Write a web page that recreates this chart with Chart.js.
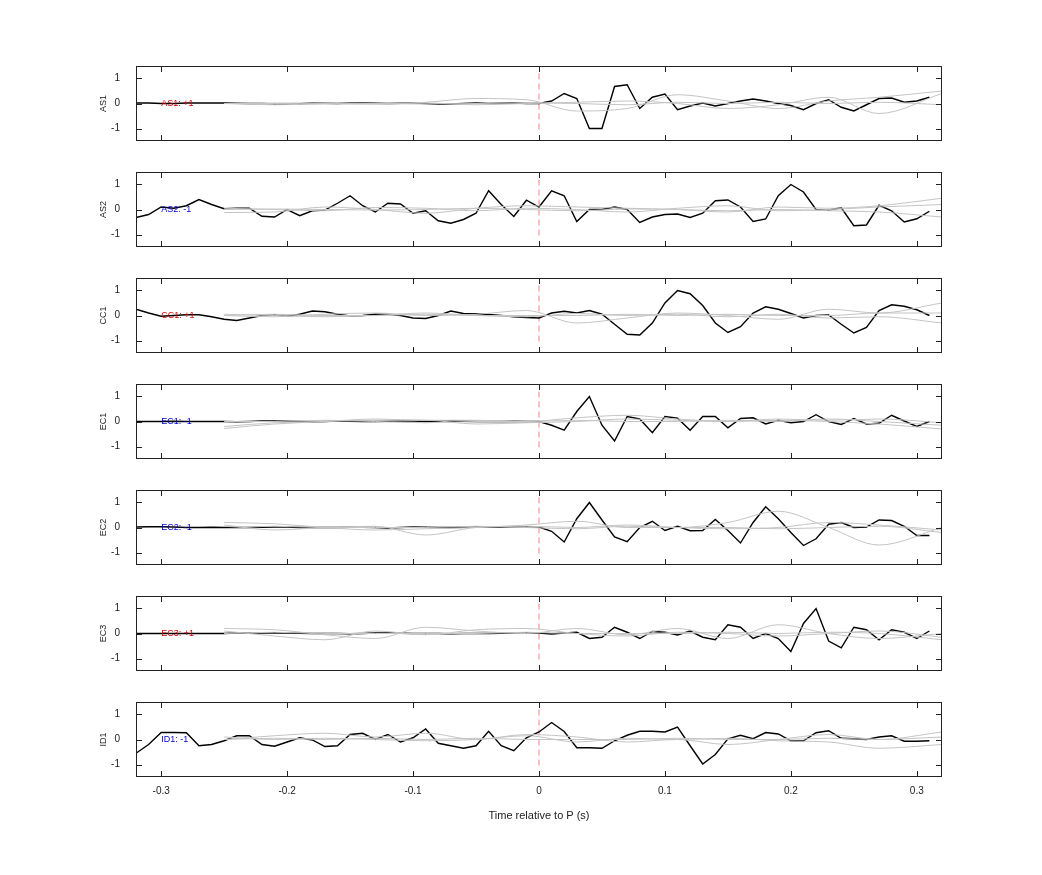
<!DOCTYPE html>
<html><head><meta charset="utf-8">
<script src="https://cdn.jsdelivr.net/npm/chart.js@4"></script>
<style>body{margin:0;background:#fff;width:1042px;height:875px;position:relative;overflow:hidden}
.p{position:absolute;left:0;width:1042px}</style></head><body>
<div id="wrap"></div>
<script>
const times=[-0.32,-0.31,-0.30,-0.29,-0.28,-0.27,-0.26,-0.25,-0.24,-0.23,-0.22,-0.21,-0.20,-0.19,-0.18,-0.17,-0.16,-0.15,-0.14,-0.13,-0.12,-0.11,-0.10,-0.09,-0.08,-0.07,-0.06,-0.05,-0.04,-0.03,-0.02,-0.01,0.00,0.01,0.02,0.03,0.04,0.05,0.06,0.07,0.08,0.09,0.10,0.11,0.12,0.13,0.14,0.15,0.16,0.17,0.18,0.19,0.20,0.21,0.22,0.23,0.24,0.25,0.26,0.27,0.28,0.29,0.30,0.31];
const grayTimes=[-0.25,-0.21,-0.17,-0.13,-0.09,-0.05,-0.01,0.03,0.07,0.11,0.15,0.19,0.23,0.27,0.32];
const channels=["AS1","AS2","CC1","EC1","EC2","EC3","ID1"];
const polarity=["+1","-1","+1","-1","-1","+1","-1"];
const xTicks=[-0.3,-0.2,-0.1,0,0.1,0.2,0.3];
const yTicks=[-1,0,1];

const AS1=[0.02,0.02,0,0,0.02,0.02,0.02,0.02,0.01,0,0,-0.02,-0.03,-0.01,0.02,0.01,0,0.02,0.02,0.01,0,0.01,0.02,0,-0.03,-0.02,0,0.02,0,0.01,0.02,0,0,
0.1,0.4,0.2,-1.0,-1.0,0.68,0.75,-0.2,0.25,0.38,-0.25,-0.1,0.02,-0.1,0,0.1,0.18,0.1,0,-0.08,-0.25,0,0.15,-0.15,-0.3,-0.05,0.2,0.22,0.05,0.1,0.25];
const AS2=[-0.32,-0.2,0.1,0.05,0.15,0.4,0.2,0.03,0.05,0.05,-0.27,-0.3,0,-0.25,-0.05,-0.02,0.25,0.55,0.15,-0.1,0.25,0.22,-0.15,-0.05,-0.45,-0.55,-0.4,-0.15,0.75,0.2,-0.28,0.37,0.1,
0.75,0.55,-0.48,0,0,0.1,0,-0.52,-0.3,-0.2,-0.18,-0.32,-0.15,0.35,0.38,0.1,-0.48,-0.38,0.55,1.0,0.7,0,-0.02,0.07,-0.65,-0.62,0.17,-0.05,-0.5,-0.37,-0.07];
const CC1=[0.25,0.1,-0.03,0,0.03,0.03,-0.05,-0.15,-0.2,-0.1,0,0.02,-0.03,0.05,0.18,0.15,0.05,-0.02,0,0.05,0.05,0,-0.1,-0.12,0,0.18,0.08,0.07,0.04,0,-0.05,-0.08,-0.1,
0.1,0.17,0.1,0.2,0.05,-0.35,-0.75,-0.78,-0.3,0.5,1.0,0.87,0.4,-0.3,-0.68,-0.45,0.1,0.35,0.25,0.08,-0.1,0,0.02,-0.35,-0.7,-0.48,0.2,0.43,0.37,0.23,0];
const EC1=[0,0,0,0.01,0,0,0,0,-0.01,0,0.02,0.02,0.01,0,-0.01,0,0.02,0.01,0,0,0.01,0.03,0.02,0,0.01,0.02,0.01,0,0,0,0.01,0,0,
-0.15,-0.35,0.4,1.0,-0.15,-0.78,0.2,0.1,-0.45,0.2,0.13,-0.35,0.2,0.2,-0.25,0.12,0.15,-0.1,0.05,-0.05,0,0.27,0,-0.12,0.12,-0.1,-0.07,0.25,0.02,-0.2,0];
const EC2=[0.02,0.03,0.03,0.02,0,0,0.01,0,0,0,0.01,0.02,0.02,0,0,0,0,0.01,0.01,0,-0.02,0,0.02,0.01,0,0,0.01,0.02,0.02,0.02,0.03,0.03,0.02,
-0.15,-0.58,0.35,1.0,0.3,-0.38,-0.57,0,0.25,-0.12,0.05,-0.13,-0.12,0.32,-0.12,-0.62,0.2,0.83,0.35,-0.2,-0.72,-0.45,0.13,0.2,0,0.02,0.3,0.28,0.05,-0.32,-0.32];
const EC3=[0,0,0,0,0,0,0,0,0.02,0.02,0.02,0.03,0.02,0.01,0,0,0,-0.01,0,0.02,0.02,0.01,0,0,0,-0.01,0,0,0,0.01,0.02,0.02,0.02,
-0.02,0.02,0.05,-0.2,-0.15,0.25,0.05,-0.2,0.08,0.05,-0.06,0.1,-0.15,-0.25,0.35,0.25,-0.2,0,-0.2,-0.72,0.4,1.0,-0.3,-0.57,0.25,0.15,-0.25,0.15,0.05,-0.2,0.1];
const ID1=[-0.55,-0.2,0.28,0.28,0.27,-0.25,-0.2,-0.05,0.15,0.15,-0.2,-0.27,-0.1,0.07,-0.02,-0.28,-0.25,0.2,0.25,0,0.2,-0.1,0.07,0.42,-0.15,-0.25,-0.35,-0.25,0.33,-0.25,-0.45,0.07,0.3,
0.68,0.32,-0.33,-0.33,-0.35,-0.05,0.17,0.33,0.33,0.3,0.5,-0.25,-0.98,-0.6,0.03,0.17,0.03,0.28,0.22,-0.05,-0.05,0.27,0.35,0.05,0.03,0,0.1,0.15,-0.07,-0.07,-0.05];

const AS1g1=[0,0.02,0,-0.03,0.05,0.2,0.15,-0.3,-0.2,0.35,0.1,-0.2,0.1,0.25,0.5];
const AS1g2=[0,-0.05,-0.02,0,0.02,-0.05,0,0.05,0.1,0,-0.2,-0.05,0.25,-0.4,0.4];
const AS1g3=[0,0,0.02,0,-0.02,0,0.02,0,-0.05,0.05,0,0.05,0,0.05,-0.05];
const AS2g1=[-0.12,-0.1,0.1,0,-0.15,0.05,0.15,0.1,0.05,0,-0.1,0.1,0.05,0.15,0.45];
const AS2g2=[0.05,0,-0.05,0.08,0.05,-0.05,0.05,0,-0.1,0.05,0.15,-0.05,0,0.1,0.2];
const AS2g3=[0,0.02,0,-0.02,0,0.05,0,-0.05,0.02,0,-0.05,0,-0.05,-0.1,-0.3];
const CC1g1=[0,-0.05,0.05,0.1,0,0.05,0.2,-0.3,-0.1,0.1,0,-0.15,0.25,0.1,0.5];
const CC1g2=[0.05,0,-0.05,0,0.1,0,-0.05,0.08,0,0.05,-0.05,0.05,-0.1,-0.05,-0.3];
const CC1g3=[0,0.05,0,0,0.05,0,0,0,0.05,0,0.05,0,0,0.1,0.1];
const EC1g1=[-0.28,-0.1,0,0.1,0.05,0.05,0,0.15,0.25,0.1,0,0.1,0.05,0.1,-0.05];
const EC1g2=[-0.2,-0.05,0,0.05,0.05,-0.1,-0.05,0,0.1,0.05,0,0.05,0,-0.1,-0.3];
const EC1g3=[0,0,0.05,0,-0.05,0,0,0.05,0,0,0.05,0,0.1,0,-0.15];
const EC2g1=[0.2,0.15,0,-0.1,-0.05,0,0.1,0.25,0,0,0.2,0.65,0,-0.7,0];
const EC2g2=[0.1,-0.1,0,0.05,-0.3,0,0.05,0,0.1,0,-0.05,0,0.2,0.1,-0.1];
const EC2g3=[-0.05,0.05,0,0,0,0.05,0,-0.05,0.05,0,0,-0.05,0,0.05,-0.2];
const EC3g1=[0.2,0.15,-0.05,-0.2,0.25,0.1,0,0.2,-0.05,0.2,-0.2,0.35,0,-0.2,0];
const EC3g2=[0.1,-0.1,-0.25,0.1,-0.05,0.15,0.2,0,-0.1,0.05,0,-0.1,0,0.1,-0.15];
const EC3g3=[0,0.05,0,0,0,0,0.05,0,0,0,0.05,0,0.05,0,-0.25];
const ID1g1=[0,0.15,0.25,0.1,0.25,0,0.2,0.1,-0.1,0,-0.2,0,0.2,0,0.3];
const ID1g2=[0.1,0,0.05,0,-0.05,0,0.15,-0.1,0.05,0,0.05,-0.05,-0.1,-0.35,-0.2];
const ID1g3=[0,0.05,0,0.05,0,0.05,0,0,0,0.05,0,0,0.05,0,0.1];

const black=[AS1,AS2,CC1,EC1,EC2,EC3,ID1];
const grays=[[AS1g1,AS1g2,AS1g3],[AS2g1,AS2g2,AS2g3],[CC1g1,CC1g2,CC1g3],[EC1g1,EC1g2,EC1g3],[EC2g1,EC2g2,EC2g3],[EC3g1,EC3g2,EC3g3],[ID1g1,ID1g2,ID1g3]];

const FONT='"Liberation Sans", Arial, sans-serif';
const wrap=document.getElementById('wrap');
const TOPOFF=14, PH=75;
channels.forEach((ch,i)=>{
  const last=i===channels.length-1;
  const H=last?TOPOFF+PH+50:106;
  const div=document.createElement('div');div.className='p';
  div.style.top=(66-TOPOFF+106*i)+'px';div.style.height=H+'px';
  const cv=document.createElement('canvas');div.appendChild(cv);wrap.appendChild(div);
  const ds=[];
  grays[i].forEach(g=>ds.push({data:g.map((v,k)=>({x:grayTimes[k],y:v})),borderColor:'#c4c4c4',borderWidth:1,pointRadius:0,tension:0.4,cubicInterpolationMode:'monotone'}));
  ds.push({data:black[i].map((v,k)=>({x:times[k],y:v})),borderColor:'#000',borderWidth:1.4,pointRadius:0,tension:0});
  const deco={id:'deco',
    beforeDatasetsDraw(c){
      const {ctx,scales:{x,y}}=c;
      ctx.save();ctx.strokeStyle='#f08080';ctx.lineWidth=1;ctx.setLineDash([6,4]);
      const px=x.getPixelForValue(0);
      ctx.beginPath();ctx.moveTo(px,y.getPixelForValue(1.2));ctx.lineTo(px,y.getPixelForValue(-1.2));ctx.stroke();
      ctx.restore();
    },
    afterDatasetsDraw(c){
      const {ctx,chartArea:a,scales:{x,y}}=c;
      ctx.save();
      ctx.fillStyle=polarity[i]==='+1'?'#d40000':'#0000d4';
      ctx.font='9px '+FONT;ctx.textBaseline='middle';ctx.textAlign='left';
      ctx.fillText(ch+': '+polarity[i],x.getPixelForValue(-0.3),y.getPixelForValue(0));
      ctx.strokeStyle='#222';ctx.lineWidth=1;ctx.setLineDash([]);
      ctx.strokeRect(a.left+0.5,a.top+0.5,a.right-a.left-1,a.bottom-a.top-1);
      ctx.beginPath();
      xTicks.forEach(t=>{const p=Math.round(x.getPixelForValue(t))+0.5;ctx.moveTo(p,a.top);ctx.lineTo(p,a.top+6);ctx.moveTo(p,a.bottom);ctx.lineTo(p,a.bottom-6);});
      yTicks.forEach(t=>{const p=Math.round(y.getPixelForValue(t))+0.5;ctx.moveTo(a.left,p);ctx.lineTo(a.left+6,p);ctx.moveTo(a.right,p);ctx.lineTo(a.right-6,p);});
      ctx.stroke();
      ctx.fillStyle='#222';ctx.font='9px '+FONT;ctx.textAlign='center';
      ctx.translate(104,(a.top+a.bottom)/2);ctx.rotate(-Math.PI/2);ctx.fillText(ch,0,0);
      ctx.restore();
    }};
  new Chart(cv,{type:'line',data:{datasets:ds},plugins:[deco],
    options:{responsive:true,maintainAspectRatio:false,animation:false,
      layout:{padding:{top:0,right:100,left:0,bottom:0}},
      plugins:{legend:{display:false},tooltip:{enabled:false}},
      scales:{
        x:{type:'linear',min:-0.32,max:0.32,grid:{display:false},border:{display:false},
          afterBuildTicks(s){s.ticks=xTicks.map(v=>({value:v}));},
          afterFit(s){s.height=H-TOPOFF-PH;},
          ticks:{display:last,color:'#222',font:{family:FONT,size:10},padding:0,maxRotation:0,callback:v=>String(v)},
          title:{display:last,text:'Time relative to P (s)',color:'#222',font:{family:FONT,size:11},padding:{top:8,bottom:4}}},
        y:{min:-1.5,max:1.5,grid:{display:false},border:{display:false},
          afterBuildTicks(s){s.ticks=yTicks.map(v=>({value:v}));},
          afterFit(s){s.width=136;},
          ticks:{color:'#222',font:{family:FONT,size:10},padding:8}}
      }}});
});
</script></body></html>
